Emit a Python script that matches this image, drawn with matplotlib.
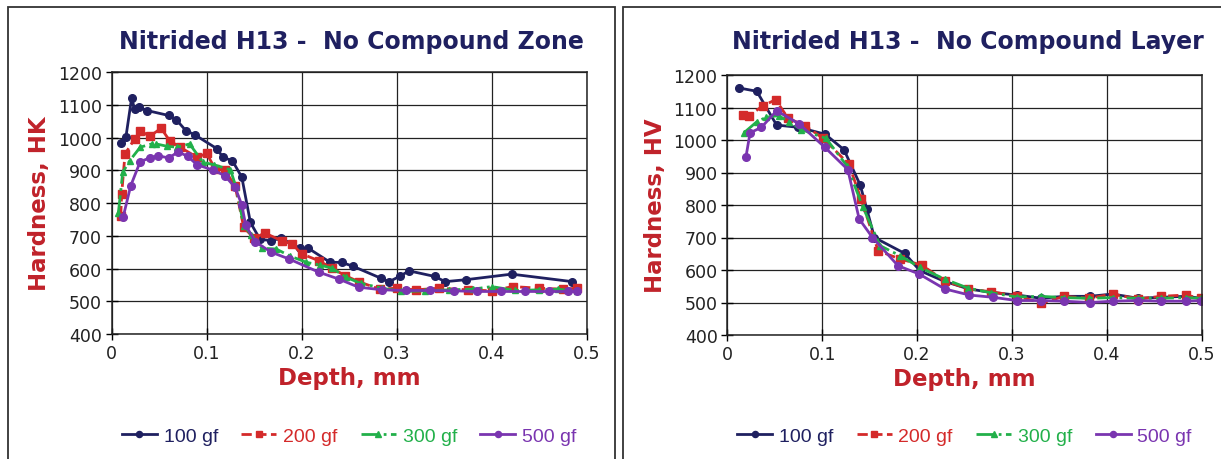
import matplotlib
matplotlib.use("Agg")
import matplotlib.pyplot as plt
from matplotlib.patches import Rectangle

# series labels and colours
labels = ["100 gf", "200 gf", "300 gf", "500 gf"]
colors = ["#1f2060", "#d42a2a", "#22b04a", "#7a35b0"]
styles = ["-", "--", "-.", "-"]
markers = ["o", "s", "^", "o"]

# left chart: Knoop hardness (HK)
xL100 = [0.0095, 0.015, 0.021, 0.024, 0.029, 0.0375, 0.06, 0.068, 0.078, 0.088, 0.111, 0.117, 0.127, 0.137,
         0.146, 0.156, 0.168, 0.178, 0.198, 0.207, 0.23, 0.242, 0.254, 0.283, 0.292, 0.303, 0.313, 0.34,
         0.351, 0.373, 0.421, 0.485]
yL100 = [984, 1003, 1122, 1088, 1093, 1083, 1068, 1055, 1022, 1008, 966, 940, 930, 879,
         741, 690, 685, 693, 662, 662, 619, 619, 607, 571, 560, 576, 593, 576,
         560, 566, 583, 560]
xL200 = [0.0095, 0.0105, 0.014, 0.024, 0.030, 0.040, 0.052, 0.061, 0.072, 0.090, 0.100, 0.109, 0.119, 0.130,
         0.139, 0.150, 0.161, 0.179, 0.19, 0.20, 0.218, 0.232, 0.246, 0.26, 0.282, 0.30, 0.32, 0.345,
         0.375, 0.40, 0.422, 0.45, 0.475, 0.49]
yL200 = [760, 828, 950, 996, 1022, 1004, 1029, 991, 971, 940, 952, 904, 902, 851,
         726, 692, 709, 685, 675, 645, 624, 601, 578, 560, 537, 540, 535, 540,
         535, 532, 545, 540, 537, 540]
xL300 = [0.007, 0.0116, 0.019, 0.030, 0.042, 0.047, 0.058, 0.069, 0.082, 0.096, 0.108, 0.125, 0.131, 0.139,
         0.147, 0.158, 0.173, 0.188, 0.205, 0.219, 0.232, 0.247, 0.262, 0.285, 0.305, 0.33, 0.355, 0.38,
         0.40, 0.425, 0.45, 0.47, 0.49]
yL300 = [770, 894, 930, 971, 981, 981, 974, 971, 981, 925, 917, 902, 848, 731,
         703, 662, 660, 638, 619, 611, 601, 573, 555, 540, 530, 532, 535, 537,
         545, 533, 535, 537, 530]
xL500 = [0.012, 0.020, 0.030, 0.040, 0.049, 0.060, 0.070, 0.080, 0.090, 0.107, 0.119, 0.130, 0.137, 0.141,
         0.151, 0.168, 0.187, 0.218, 0.239, 0.26, 0.285, 0.31, 0.335, 0.36, 0.385, 0.41, 0.435, 0.46,
         0.48, 0.49]
yL500 = [757, 853, 927, 938, 945, 938, 957, 943, 917, 901, 884, 848, 794, 733,
         682, 650, 629, 589, 568, 543, 535, 533, 533, 532, 530, 530, 530, 530,
         530, 530]

# right chart: Vickers hardness (HV)
xR100 = [0.0126, 0.031, 0.052, 0.075, 0.103, 0.123, 0.140, 0.147, 0.155, 0.187, 0.203, 0.229, 0.254, 0.278,
         0.305, 0.331, 0.355, 0.382, 0.406, 0.433, 0.457, 0.483, 0.5]
yR100 = [1160, 1150, 1046, 1039, 1018, 970, 862, 788, 700, 651, 598, 565, 542, 531,
         523, 513, 519, 519, 526, 513, 516, 519, 513]
xR200 = [0.0168, 0.023, 0.038, 0.051, 0.064, 0.082, 0.101, 0.128, 0.141, 0.159, 0.182, 0.205, 0.229, 0.254,
         0.278, 0.305, 0.331, 0.355, 0.381, 0.406, 0.433, 0.457, 0.483, 0.499]
yR200 = [1077, 1075, 1106, 1124, 1067, 1044, 1005, 926, 818, 659, 634, 615, 567, 542,
         533, 521, 498, 519, 513, 526, 511, 519, 523, 513]
xR300 = [0.0175, 0.031, 0.041, 0.054, 0.065, 0.078, 0.104, 0.126, 0.143, 0.161, 0.182, 0.203, 0.229, 0.254,
         0.278, 0.305, 0.331, 0.355, 0.381, 0.406, 0.433, 0.457, 0.483, 0.499]
yR300 = [1022, 1056, 1070, 1075, 1056, 1032, 1005, 921, 793, 675, 644, 608, 572, 544,
         530, 517, 519, 515, 513, 515, 513, 513, 515, 513]
xR500 = [0.0196, 0.024, 0.036, 0.052, 0.076, 0.103, 0.127, 0.139, 0.153, 0.180, 0.202, 0.229, 0.255, 0.280,
         0.305, 0.331, 0.355, 0.382, 0.406, 0.433, 0.457, 0.483, 0.499]
yR500 = [947, 1022, 1039, 1090, 1049, 977, 909, 757, 700, 613, 588, 542, 523, 516,
         506, 506, 504, 500, 504, 506, 504, 504, 506]

xticks = [0, 0.1, 0.2, 0.3, 0.4, 0.5]
xticklabels = ["0", "0.1", "0.2", "0.3", "0.4", "0.5"]
yticks = [400, 500, 600, 700, 800, 900, 1000, 1100, 1200]

W, H = 1221, 460
fig = plt.figure(figsize=(W / 100, H / 100), dpi=100)

# panel frames
for x0, x1 in [(8, 615), (623, 1230)]:
    fig.patches.append(Rectangle((x0 / W, -0.05), (x1 - x0) / W, 1.05 - 8 / H,
                                 transform=fig.transFigure, fill=False,
                                 edgecolor="#333333", linewidth=1.3))


def draw(ax, data, title, ylabel, tcx):
    for (x, y), lab, c, ls, m in zip(data, labels, colors, styles, markers):
        ms = 5.5 if m != "^" else 5
        ax.plot(x, y, linestyle=ls, marker=m, color=c, lw=2, ms=ms, label=lab)
    ax.set_xlim(0, 0.5)
    ax.set_ylim(400, 1200)
    ax.set_xticks(xticks)
    ax.set_xticklabels(xticklabels)
    ax.set_yticks(yticks)
    ax.grid(True, color="#222222", lw=0.9)
    ax.tick_params(direction="inout", length=8, width=1, labelsize=12.5,
                   labelcolor="#222222", pad=3)
    for s in ax.spines.values():
        s.set_linewidth(1.1)
        s.set_color("#222222")
    ax.set_xlabel("Depth, mm", color="#c0222a", fontsize=16.5, fontweight="bold", labelpad=3)
    ax.set_ylabel(ylabel, color="#c0222a", fontsize=16.5, fontweight="bold", labelpad=5)
    fig.text(tcx / W, 1 - 42 / H, title, ha="center", va="center",
             fontsize=17, fontweight="bold", color="#1f2060")
    leg = ax.legend(loc="center", bbox_to_anchor=(0.5, -0.39), ncol=4, frameon=False,
                    labelcolor="linecolor", handlelength=1.8, markerscale=0.8,
                    handletextpad=0.35, columnspacing=1.2,
                    prop={"family": ["Liberation Sans Narrow", "Liberation Sans"], "size": 14})
    return leg


axL = fig.add_axes([111.7 / W, 1 - 335 / H, 475 / W, 261.7 / H])
draw(axL, [(xL100, yL100), (xL200, yL200), (xL300, yL300), (xL500, yL500)],
     "Nitrided H13 -  No Compound Zone", "Hardness, HK", 351)

axR = fig.add_axes([727.3 / W, 1 - 336 / H, 474.4 / W, 260 / H])
draw(axR, [(xR100, yR100), (xR200, yR200), (xR300, yR300), (xR500, yR500)],
     "Nitrided H13 -  No Compound Layer", "Hardness, HV", 968)

fig.savefig("out.png", dpi=100)
